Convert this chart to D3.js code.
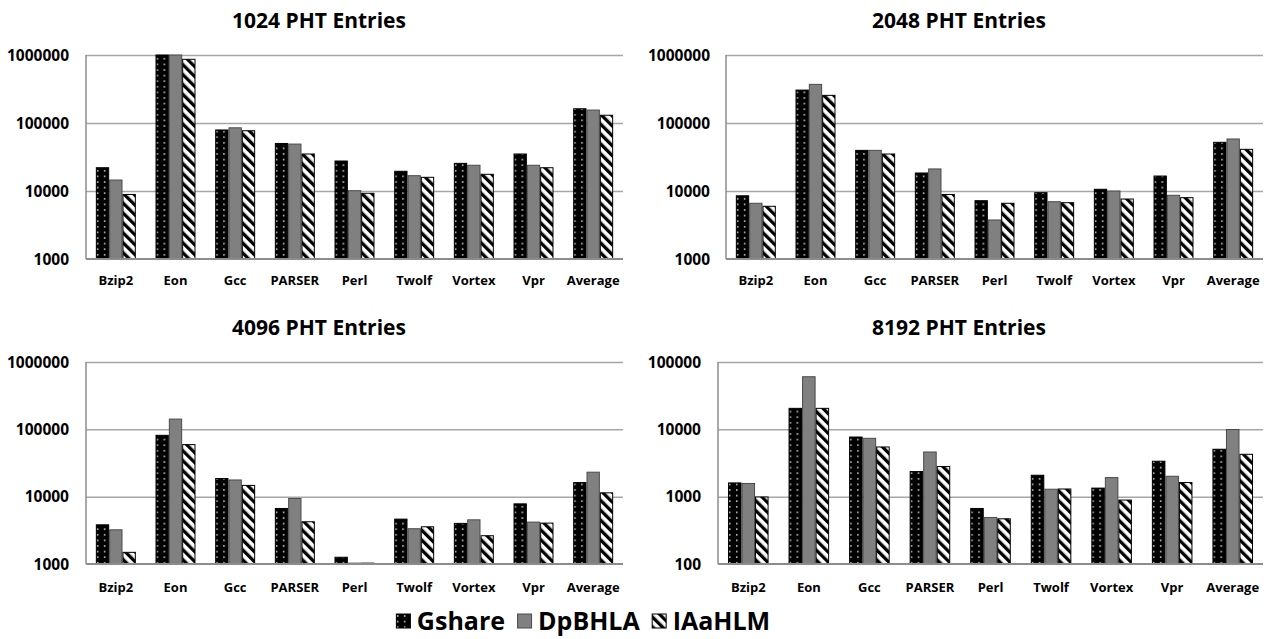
<!DOCTYPE html>
<html>
<head>
<meta charset="utf-8">
<script src="https://cdn.jsdelivr.net/npm/d3@7"></script>
<style>
  body { margin: 0; background: #fff; }
  svg { display: block; font-family: "Open Sans", Lato, sans-serif; font-weight: bold; }
</style>
</head>
<body>
<svg id="chart" width="1272" height="639"></svg>
<script>
// benchmarks and predictors
var categories = ["Bzip2", "Eon", "Gcc", "PARSER", "Perl", "Twolf", "Vortex", "Vpr", "Average"];
var seriesNames = ["Gshare", "DpBHLA", "IAaHLM"];
var panelTitles = ["1024 PHT Entries", "2048 PHT Entries", "4096 PHT Entries", "8192 PHT Entries"];

// values
var gshare1024 = [22000, 1000000, 79000, 50000, 27600, 19500, 25500, 35000, 162000];
var dpbhla1024 = [14500, 1000000, 85000, 49000, 10100, 16800, 23900, 23900, 155000];
var iaahlm1024 = [8900, 865000, 77000, 35000, 9250, 15900, 17600, 22000, 130000];

var gshare2048 = [8500, 305000, 39600, 18400, 7200, 9450, 10600, 16600, 52000];
var dpbhla2048 = [6600, 370000, 39600, 21100, 3750, 6960, 10000, 8650, 58200];
var iaahlm2048 = [5960, 255000, 35000, 8900, 6600, 6730, 7620, 7980, 41000];

var gshare4096 = [3820, 81500, 18600, 6680, 1260, 4640, 4010, 7820, 16200];
var dpbhla4096 = [3220, 142000, 17700, 9400, 1030, 3340, 4530, 4190, 23100];
var iaahlm4096 = [1490, 59300, 14700, 4240, 1030, 3570, 2630, 4050, 11400];

var gshare8192 = [1600, 20500, 7690, 2360, 668, 2080, 1340, 3360, 5060];
var dpbhla8192 = [1570, 60400, 7360, 4610, 491, 1290, 1920, 2010, 9950];
var iaahlm8192 = [990, 20500, 5470, 2800, 469, 1300, 890, 1620, 4260];

var ticksTop = [1000, 10000, 100000, 1000000];
var ticks8192 = [100, 1000, 10000, 100000];

var panels = [
  {title: panelTitles[0], data: [gshare1024, dpbhla1024, iaahlm1024], ticks: ticksTop, left: 86, right: 623, top: 55, bottom: 259, tickX: 69, titleX: 319, titleY: 28, labY: 285},
  {title: panelTitles[1], data: [gshare2048, dpbhla2048, iaahlm2048], ticks: ticksTop, left: 726, right: 1263, top: 55, bottom: 259, tickX: 710, titleX: 959, titleY: 28, labY: 285},
  {title: panelTitles[2], data: [gshare4096, dpbhla4096, iaahlm4096], ticks: ticksTop, left: 86, right: 623, top: 362, bottom: 564, tickX: 69, titleX: 319, titleY: 335, labY: 592},
  {title: panelTitles[3], data: [gshare8192, dpbhla8192, iaahlm8192], ticks: ticks8192, left: 718, right: 1263, top: 362, bottom: 564, tickX: 701, titleX: 959, titleY: 335, labY: 592}
];

var svg = d3.select('#chart');
var defs = svg.append('defs');

// black with white dots
var dots = defs.append('pattern').attr('id', 'dots').attr('patternUnits', 'userSpaceOnUse')
  .attr('width', 7).attr('height', 5.6);
dots.append('rect').attr('width', 7).attr('height', 5.6).attr('fill', '#000');
dots.append('rect').attr('x', 1.1).attr('y', 2.1).attr('width', 1.4).attr('height', 1.4).attr('fill', '#fff');

// white with black "\" stripes
var hatch = defs.append('pattern').attr('id', 'hatch').attr('patternUnits', 'userSpaceOnUse')
  .attr('width', 7).attr('height', 7).attr('patternTransform', 'rotate(-45)');
hatch.append('rect').attr('width', 7).attr('height', 7).attr('fill', '#fff');
hatch.append('rect').attr('width', 3.3).attr('height', 7).attr('fill', '#000');

var fills = ['url(#dots)', '#808080', 'url(#hatch)'];
var strokes = ['#000', '#4a4a4a', '#000'];

panels.forEach(function (p) {
  var g = svg.append('g');
  var x0 = d3.scaleBand().domain(categories).range([p.left, p.right]).paddingInner(0.33).paddingOuter(0.165);
  var x1 = d3.scaleBand().domain(seriesNames).range([0, x0.bandwidth()]);
  var y = d3.scaleLog().domain([p.ticks[0], p.ticks[p.ticks.length - 1]]).range([p.bottom, p.top]).clamp(true);

  // gridlines
  g.append('g').attr('transform', 'translate(' + p.left + ',0)')
    .call(d3.axisLeft(y).tickValues(p.ticks.slice(1)).tickSize(-(p.right - p.left)).tickFormat(''))
    .call(function (a) {
      a.select('.domain').remove();
      a.selectAll('line').attr('stroke', '#a6a6a6').attr('stroke-width', 1.5);
    });

  // tick labels
  g.selectAll('.ylab').data(p.ticks).enter().append('text')
    .attr('x', p.tickX).attr('y', function (d) { return y(d); })
    .attr('dy', '0.36em').attr('text-anchor', 'end')
    .style('font-size', '15.5px').text(function (d) { return d3.format('d')(d); });

  // bars
  var groups = g.selectAll('.grp').data(categories).enter().append('g')
    .attr('transform', function (c) { return 'translate(' + x0(c) + ',0)'; });
  groups.selectAll('rect').data(function (c, i) {
    return seriesNames.map(function (s, k) { return {s: s, k: k, v: p.data[k][i]}; });
  }).enter().append('rect')
    .attr('x', function (d) { return x1(d.s) + 0.5; })
    .attr('y', function (d) { return y(d.v); })
    .attr('width', x1.bandwidth() - 1)
    .attr('height', function (d) { return p.bottom - y(d.v); })
    .attr('fill', function (d) { return fills[d.k]; })
    .attr('stroke', function (d) { return strokes[d.k]; })
    .attr('stroke-width', 1);

  // axis lines
  g.append('line').attr('x1', p.left).attr('x2', p.left).attr('y1', p.top).attr('y2', p.bottom)
    .attr('stroke', '#8c8c8c').attr('stroke-width', 1.5);
  g.append('line').attr('x1', p.left).attr('x2', p.right).attr('y1', p.bottom).attr('y2', p.bottom)
    .attr('stroke', '#8c8c8c').attr('stroke-width', 2);

  // category labels
  g.selectAll('.xlab').data(categories).enter().append('text')
    .attr('x', function (c) { return x0(c) + x0.bandwidth() / 2; })
    .attr('y', p.labY).attr('text-anchor', 'middle')
    .style('font-size', '13px').text(function (c) { return c; });

  g.append('text').attr('x', p.titleX).attr('y', p.titleY).attr('text-anchor', 'middle')
    .style('font-size', '21px').text(p.title);
});

// legend
var legend = svg.append('g');
var lx = 0;
seriesNames.forEach(function (s, k) {
  legend.append('rect').attr('x', lx + 0.5).attr('y', -16).attr('width', 14).attr('height', 14)
    .attr('fill', fills[k]).attr('stroke', strokes[k]).attr('stroke-width', 1);
  var t = legend.append('text').attr('x', lx + 21).attr('y', 0).style('font-size', '25px').text(s);
  lx += 21 + t.node().getComputedTextLength() + 12;
});
legend.attr('transform', 'translate(' + (583 - (lx - 12) / 2) + ',630)');
</script>
</body>
</html>
